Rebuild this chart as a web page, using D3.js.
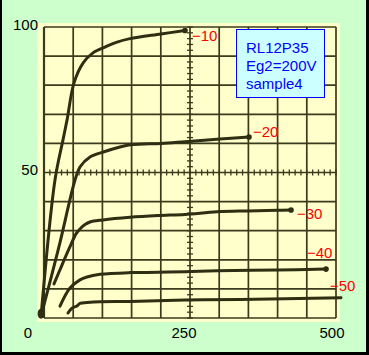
<!DOCTYPE html>
<html><head><meta charset="utf-8">
<script src="https://cdn.jsdelivr.net/npm/d3@7"></script>
<style>html,body{margin:0;padding:0;background:#ccffcc;}svg{display:block;}</style>
</head><body>
<script>
// ---- data (Vp in volts, Ip in mA) ----
const gridValues = [-10, -20, -30, -40, -50];
const curveM10 = [[-5,0.7],[18.8,47.4],[32.5,61.2],[39.4,68.0],[51.4,80.8],[66.8,87.6],[83.9,91.1],[104.5,93.1],[125,94.8],[147.3,96.0],[200.3,97.6],[241.4,98.8]];
const curveM20 = [[-5,0.7],[25,24],[53.1,47.4],[61.6,51.9],[78.8,55.3],[101,57.0],[147.3,59.5],[200.3,60.0],[241.4,60.6],[301,61.5],[351,62.2]];
const curveM30 = [[17.1,11.7],[30.8,18.2],[44.5,24.5],[54.8,28.9],[61.6,30.6],[70.2,32.1],[78.8,33.0],[101,33.7],[147.3,34.6],[195.2,35.2],[241.4,35.6],[296.2,36.5],[347.6,36.8],[399,37.0],[423,37.1]];
const curveM40 = [[27.4,4.1],[44.5,10.3],[61.6,13.1],[73.6,14.1],[95.9,15.0],[147.3,15.6],[195.2,15.7],[241.4,15.9],[296.2,16.2],[399,16.5],[482.9,16.8]];
const curveM50 = [[41.1,1.7],[47.9,3.4],[56.5,4.1],[61.6,5.0],[73.6,5.3],[95.9,5.6],[147.3,5.7],[241.4,6.2],[335.6,6.4],[508.6,7.0]];
const curves = [curveM10, curveM20, curveM30, curveM40, curveM50];
const curveLabels = ["\u221210", "\u221220", "\u221230", "\u221240", "\u221250"];
const xTickLabels = [0, 250, 500];
const yTickLabels = [50, 100];
const legendLines = ["RL12P35", "Eg2=200V", "sample4"];

const W = 369, H = 355;
const svg = d3.select("body").append("svg").attr("width", W).attr("height", H);

// background & frame
svg.append("rect").attr("x",0).attr("y",0).attr("width",W).attr("height",H).attr("fill","#ccffcc");
svg.append("rect").attr("x",0).attr("y",0).attr("width",2).attr("height",H).attr("fill","#000");
svg.append("rect").attr("x",W-3).attr("y",0).attr("width",3).attr("height",H).attr("fill","#000");
svg.append("rect").attr("x",0).attr("y",H-3).attr("width",W).attr("height",3).attr("fill","#000");

// scope screen
svg.append("rect").attr("x",37).attr("y",23).attr("width",303).attr("height",299).attr("fill","#ffffcc");

const x = d3.scaleLinear().domain([0,500]).range([44,336]);
const y = d3.scaleLinear().domain([0,100]).range([318,27]);

const gridColor = "#3a3a1c";
const g = svg.append("g");
g.selectAll("line.v").data(x.ticks(10)).join("line")
  .attr("x1", d=>x(d)).attr("x2", d=>x(d)).attr("y1", y(100)).attr("y2", y(0))
  .attr("stroke", gridColor).attr("stroke-width", d=> d===0 ? 2.2 : 1.7);
g.selectAll("line.h").data(y.ticks(10)).join("line")
  .attr("y1", d=>y(d)).attr("y2", d=>y(d)).attr("x1", x(0)).attr("x2", x(500))
  .attr("stroke", gridColor).attr("stroke-width", 1.7);

// minor ticks on centre lines
const minorX = d3.range(0, 501, 10);
g.selectAll("line.mx").data(minorX).join("line")
  .attr("x1", d=>x(d)).attr("x2", d=>x(d)).attr("y1", y(50)-3).attr("y2", y(50)+3)
  .attr("stroke", gridColor).attr("stroke-width", 1.3);
const minorY = d3.range(0, 101, 2);
g.selectAll("line.my").data(minorY).join("line")
  .attr("y1", d=>y(d)).attr("y2", d=>y(d)).attr("x1", x(250)-3).attr("x2", x(250)+3)
  .attr("stroke", gridColor).attr("stroke-width", 1.3);

// curves
const line = d3.line().x(d=>x(d[0])).y(d=>y(d[1])).curve(d3.curveCatmullRom.alpha(0.5));
const curveColor = "#2e2e12";
svg.selectAll("path.curve").data(curves).join("path")
  .attr("d", line).attr("fill","none").attr("stroke", curveColor)
  .attr("stroke-width", 3).attr("stroke-linecap","round").attr("stroke-linejoin","round");
// trace end dots
svg.selectAll("circle.end").data(curves.slice(0,4)).join("circle")
  .attr("cx", d=>x(d[d.length-1][0])).attr("cy", d=>y(d[d.length-1][1]))
  .attr("r", 2.8).attr("fill", curveColor);
// origin blob
svg.append("ellipse").attr("cx", x(-5)).attr("cy", y(1.5)).attr("rx", 3.5).attr("ry", 5).attr("fill", curveColor);

// red curve labels
const labelPos = [[192,41],[253,137],[297,219],[307,258],[330,291]];
svg.selectAll("text.cl").data(curveLabels).join("text")
  .attr("x", (d,i)=>labelPos[i][0]).attr("y", (d,i)=>labelPos[i][1])
  .attr("font-family","Liberation Sans, Arial, sans-serif").attr("font-size",15)
  .attr("fill","#ff0000").text(d=>d);

// axis labels
const xl = d3.scaleLinear().domain([0,250,500]).range([28,184,332]);
svg.selectAll("text.xl").data(xTickLabels).join("text")
  .attr("x", d=>xl(d)).attr("y", 338).attr("text-anchor","middle")
  .attr("font-family","Liberation Sans, Arial, sans-serif").attr("font-size",15)
  .attr("fill","#000").text(d=>d);
const yl = d3.scaleLinear().domain([50,100]).range([175,30]);
svg.selectAll("text.yl").data(yTickLabels).join("text")
  .attr("x", 38).attr("y", d=>yl(d)).attr("text-anchor","end")
  .attr("font-family","Liberation Sans, Arial, sans-serif").attr("font-size",15)
  .attr("fill","#000").text(d=>d);

// legend box
svg.append("rect").attr("x",236.5).attr("y",29.5).attr("width",88).attr("height",68)
  .attr("fill","#ccffff").attr("stroke","#0000ff").attr("stroke-width",1);
svg.selectAll("text.lg").data(legendLines).join("text")
  .attr("x", 246).attr("y", (d,i)=>[53,71,89][i])
  .attr("font-family","Liberation Sans, Arial, sans-serif").attr("font-size",15)
  .attr("fill","#0000ff").text(d=>d);
</script>
</body></html>
